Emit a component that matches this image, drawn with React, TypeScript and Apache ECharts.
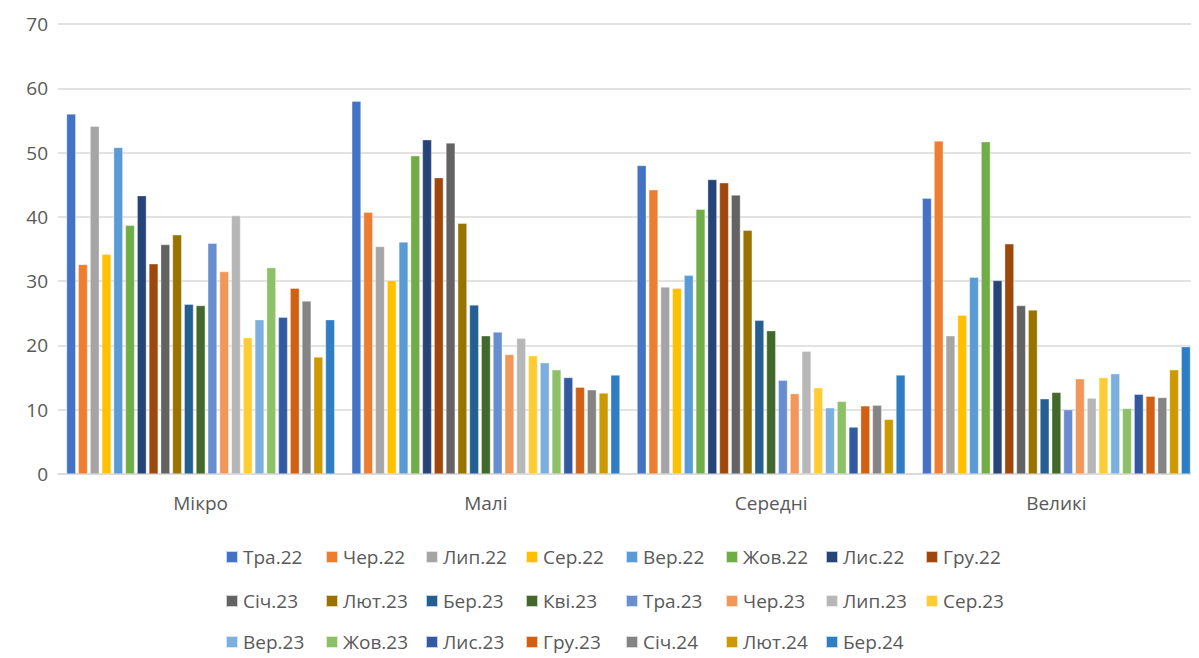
import React, { useEffect, useRef } from "react";
import * as echarts from "echarts";

const categories = ["Мікро", "Малі", "Середні", "Великі"];
const seriesNames = [
  "Тра.22", "Чер.22", "Лип.22", "Сер.22", "Вер.22", "Жов.22", "Лис.22", "Гру.22",
  "Січ.23", "Лют.23", "Бер.23", "Кві.23", "Тра.23", "Чер.23", "Лип.23", "Сер.23",
  "Вер.23", "Жов.23", "Лис.23", "Гру.23", "Січ.24", "Лют.24", "Бер.24",
];
const colors = [
  "#4472C4", "#ED7D31", "#A5A5A5", "#FFC000", "#5B9BD5", "#70AD47", "#264478", "#9E480E",
  "#636363", "#997300", "#255E91", "#43682B", "#698ED0", "#F1975A", "#B7B7B7", "#FFCD33",
  "#7CAFDD", "#8CC168", "#335AA1", "#D26012", "#848484", "#CC9A00", "#2E7DC5",
];
const mikro = [56.0, 32.6, 54.1, 34.2, 50.8, 38.7, 43.3, 32.7, 35.7, 37.2, 26.4, 26.2, 35.9, 31.5, 40.2, 21.2, 24.0, 32.1, 24.4, 28.9, 26.9, 18.2, 24.0];
const mali = [58.0, 40.7, 35.4, 30.1, 36.1, 49.5, 52.0, 46.1, 51.5, 39.0, 26.3, 21.5, 22.1, 18.6, 21.1, 18.4, 17.3, 16.2, 15.0, 13.5, 13.1, 12.6, 15.4];
const seredni = [48.0, 44.2, 29.1, 28.9, 30.9, 41.2, 45.8, 45.3, 43.4, 37.9, 23.9, 22.3, 14.6, 12.5, 19.1, 13.4, 10.3, 11.3, 7.3, 10.6, 10.7, 8.5, 15.4];
const veliki = [42.9, 51.8, 21.5, 24.7, 30.6, 51.7, 30.1, 35.8, 26.2, 25.5, 11.7, 12.7, 10.0, 14.8, 11.8, 15.0, 15.6, 10.2, 12.4, 12.1, 11.9, 16.2, 19.8];
const yTicks = { min: 0, max: 70, interval: 10 };

const FONT = "'Open Sans', 'Noto Sans', sans-serif";
const TEXT = "#595959";

export default function App() {
  const ref = useRef<HTMLDivElement>(null);
  useEffect(() => {
    if (!ref.current) return;
    const chart = echarts.init(ref.current, undefined, { renderer: "svg" });
    const byCat = [mikro, mali, seredni, veliki];
    const rows = [seriesNames.slice(0, 8), seriesNames.slice(8, 16), seriesNames.slice(16)];
    const rowCenters = [549, 593, 634];
    chart.setOption({
      animation: false,
      color: colors,
      textStyle: { fontFamily: FONT },
      grid: { left: 50, top: 16, width: 1152, height: 450, containLabel: false },
      xAxis: {
        type: "category",
        data: categories,
        axisTick: { show: false },
        axisLine: { lineStyle: { color: "#d9d9d9", width: 1.5 } },
        axisLabel: { color: TEXT, fontSize: 19, fontFamily: FONT, margin: 19 },
      },
      yAxis: {
        type: "value",
        min: yTicks.min,
        max: yTicks.max,
        interval: yTicks.interval,
        axisLine: { show: false },
        axisTick: { show: false },
        splitLine: { lineStyle: { color: "#d9d9d9", width: 1.5 } },
        axisLabel: { color: TEXT, fontSize: 19, fontFamily: FONT, margin: 10 },
      },
      legend: rows.map((row, r) => ({
        left: 217,
        top: rowCenters[r] - 11,
        width: 1000,
        padding: 0,
        itemWidth: 12,
        itemHeight: 12,
        itemGap: 10,
        icon: "rect",
        textStyle: {
          color: TEXT,
          fontSize: 19,
          fontFamily: FONT,
          width: 72,
          lineHeight: 22,
        },
        data: row,
      })),
      series: seriesNames.map((name, i) => ({
        name,
        type: "bar",
        data: byCat.map((arr) => arr[i]),
        barCategoryGap: "6%",
        barGap: "28%",
        itemStyle: { borderColor: "rgba(255,255,255,0.7)", borderWidth: 0.5 },
      })),
    });
    return () => chart.dispose();
  }, []);
  return <div ref={ref} style={{ width: 1191, height: 650 }} />;
}
